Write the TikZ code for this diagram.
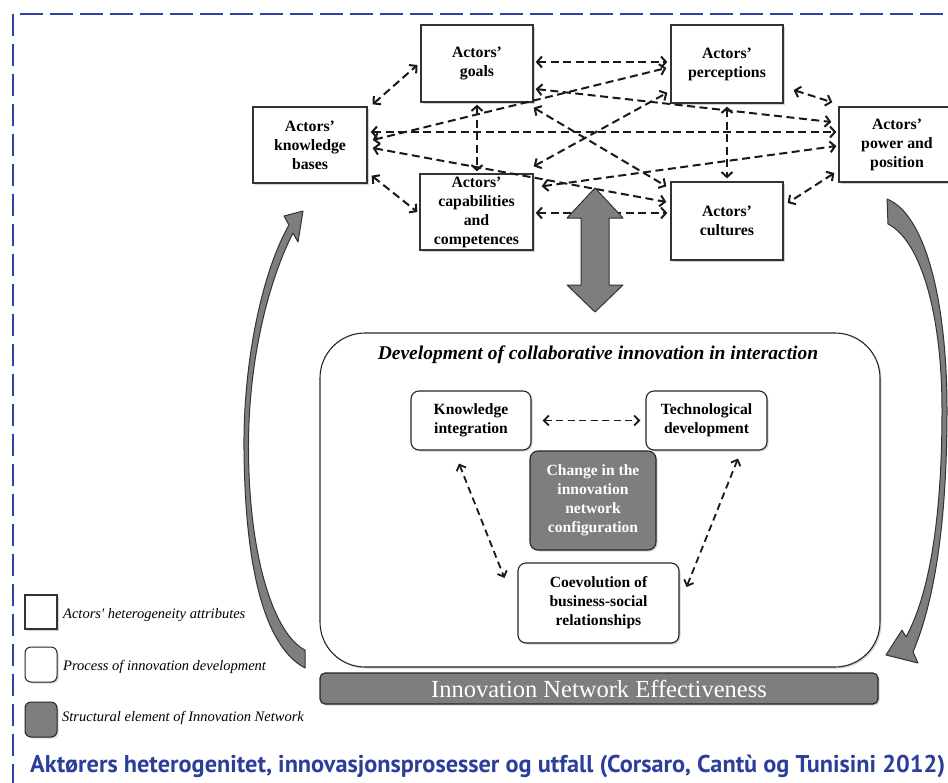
\documentclass[tikz,border=0pt]{standalone}
\usepackage{fontspec}
\setmainfont{Liberation Serif}
\newfontfamily\capfont{PT Sans}
\usetikzlibrary{arrows.meta,shadows,calc}
\definecolor{bordblue}{HTML}{2F45A5}
\definecolor{capblue}{HTML}{2B3F9A}
\definecolor{arrgray}{HTML}{7E7E7E}
\tikzset{
  shad/.style={drop shadow={shadow xshift=1.5pt,shadow yshift=-1.5pt,opacity=0.35}},
  actor/.style={draw=black!80, line width=1.3pt, fill=white, inner sep=0pt, align=center,
    font=\fontsize{15.8}{19}\selectfont\bfseries, shad},
  proc/.style={draw=black!85, line width=1.1pt, fill=white, rounded corners=8pt, inner sep=0pt,
    align=center, font=\fontsize{15.6}{19}\selectfont\bfseries, shad},
  struct/.style={proc, fill=arrgray, text=white},
  darr/.style={draw=black!90, line width=2pt, dash pattern=on 8pt off 4.5pt,
    {Straight Barb[length=5pt,width=11pt]}-{Straight Barb[length=5pt,width=11pt]}},
  iarr/.style={draw=black!90, line width=1.8pt, dash pattern=on 7pt off 4.5pt,
    {Straight Barb[length=5pt,width=10pt]}-{Straight Barb[length=5pt,width=10pt]}},
  blockarr/.style={fill=arrgray, draw=black!80, line width=1pt, line join=round},
  legtext/.style={anchor=west, inner sep=0pt, font=\fontsize{14.5}{16}\selectfont\itshape},
}
\begin{document}
\begin{tikzpicture}[x=1pt,y=-1pt]
\useasboundingbox (0,0) rectangle (948,782);
\fill[white] (0,0) rectangle (948,782);
% dashed frame
\draw[bordblue, line width=2pt, dash pattern=on 22pt off 8pt] (12.5,14) -- (12.5,790);
\draw[bordblue, line width=2pt, dash pattern=on 23pt off 7pt] (20,14) -- (960,14);

% actor nodes
\node[actor, minimum width=112pt, minimum height=77pt] (goals) at (477,63.5) {Actors’\\goals};
\node[actor, minimum width=114pt, minimum height=76pt] (know) at (310,145) {Actors’\\knowledge\\bases};
\node[actor, minimum width=113pt, minimum height=76pt] (caps) at (476.5,212) {Actors’\\capabilities\\and\\competences};
\node[actor, minimum width=112pt, minimum height=78pt] (perc) at (727,64) {Actors’\\perceptions};
\node[actor, minimum width=112pt, minimum height=78pt] (cult) at (727,221) {Actors’\\cultures};
\node[actor, minimum width=116pt, minimum height=75pt] (power) at (897,144.5) {Actors’\\power and\\position};

% dashed relations between actors
\draw[darr] ($(know.north east)+(5,-2)$) -- ($(goals.west)+(-3,1.5)$);
\draw[darr] ($(know.south east)+(4,-8)$) -- ($(caps.west)+(-2,0)$);
\draw[darr] ($(goals.south)+(0,2)$) -- ($(caps.north)+(0.5,-2)$);
\draw[darr] ($(goals.east)+(2,-1.5)$) -- ($(perc.west)+(-3,-2)$);
\draw[darr] ($(goals.east)+(2,25.5)$) -- ($(power.west)+(-7,-22.5)$);
\draw[darr] ($(goals.south east)+(0,5)$) -- ($(cult.north west)+(-4,5)$);
\draw[darr] ($(know.east)+(3,-13)$) -- ($(power.west)+(-2,-12.5)$);
\draw[darr] ($(know.east)+(5,-5)$) -- ($(perc.west)+(-4,4)$);
\draw[darr] ($(know.east)+(5,3)$) -- ($(cult.west)+(-4,-19)$);
\draw[darr] ($(caps.north east)+(0,-7)$) -- ($(perc.south west)+(-3,-11)$);
\draw[darr] ($(caps.north east)+(8,13)$) -- ($(power.west)+(-2,1.5)$);
\draw[darr] ($(caps.east)+(2,1)$) -- ($(cult.west)+(-3,-8)$);
\draw[darr] ($(perc.south)+(0,3)$) -- ($(cult.north)+(0,-3)$);
\draw[darr] ($(perc.east)+(10,26)$) -- ($(power.north west)+(-6,-4)$);
\draw[darr] ($(power.west)+(-4,28.5)$) -- ($(cult.east)+(4,-18)$);

% big double block arrow
\draw[blockarr] (595,188) -- (623,218) -- (609,218) -- (609,285) -- (623,285) -- (595,312)
  -- (567,285) -- (581,285) -- (581,218) -- (567,218) -- cycle;

% development box
\node[draw=black!85, line width=1.1pt, rounded corners=45pt, minimum width=560pt, minimum height=334pt, inner sep=0pt, shad, fill=white] (dev) at (600,500) {};
\node[inner sep=0pt, font=\fontsize{19.5}{22}\selectfont\bfseries\itshape] (devtitle) at (598,355) {Development of collaborative innovation in interaction};

\node[proc, minimum width=120pt, minimum height=59pt] (ki) at (471,420.5) {Knowledge\\integration};
\node[proc, minimum width=121pt, minimum height=59pt] (td) at (706.5,420.5) {Technological\\development};
\node[struct, minimum width=126pt, minimum height=99pt] (chg) at (593,500.5) {Change in the\\innovation\\network\\configuration};
\node[proc, minimum width=161pt, minimum height=80pt] (coev) at (598.5,603) {Coevolution of\\business-social\\relationships};

\draw[iarr] ($(ki.east)+(11,0)$) -- ($(td.west)+(-5,0)$);
\draw[iarr] ($(ki.south)+(-12,13)$) -- ($(coev.west)+(-13,-25)$);
\draw[iarr] ($(td.south)+(31.5,8)$) -- ($(coev.east)+(7,-16)$);

% effectiveness bar
\node[struct, rounded corners=5pt, minimum width=558pt, minimum height=31pt,
  font=\fontsize{24.5}{26}\selectfont] (ine) at (599,688.5) {Innovation Network Effectiveness};

% curved feedback arrows
\draw[blockarr] (303,211) -- (284,216) -- (289,225)
  .. controls (263,270) and (243,360) .. (244,450)
  .. controls (245,560) and (262,645) .. (305,668) -- (305,650)
  .. controls (275,635) and (249,560) .. (248.5,450)
  .. controls (248,362) and (268,282) .. (293,233) -- (298,242) -- cycle;
\draw[blockarr] (887,199) .. controls (925,214) and (947,300) .. (947,410)
  .. controls (947,520) and (935,600) .. (913,652) -- (918,663) -- (886,655) -- (902,630) -- (906,637)
  .. controls (929,595) and (942,520) .. (942,410)
  .. controls (942,312) and (920,240) .. (888,224) -- cycle;

% legend
\node[draw=black!80, line width=1.2pt, fill=white, minimum width=32pt, minimum height=34pt, inner sep=0pt, shad] (leg1) at (41,612) {};
\node[legtext] (leg1t) at (63,615) {Actors\textquotesingle{} heterogeneity attributes};
\node[draw=black!85, line width=1pt, fill=white, rounded corners=6pt, minimum width=32pt, minimum height=35pt, inner sep=0pt, shad] (leg2) at (41,664.5) {};
\node[legtext] (leg2t) at (63,667) {Process of innovation development};
\node[draw=black!85, line width=1pt, fill=arrgray, rounded corners=6pt, minimum width=32pt, minimum height=35pt, inner sep=0pt, shad] (leg3) at (41,719.5) {};
\node[legtext] (leg3t) at (62,718) {Structural element of Innovation Network};

% caption
\node[anchor=base west, inner sep=0pt, text=capblue] (cap) at (30,772)
  {\resizebox{915pt}{!}{\capfont\bfseries Aktørers heterogenitet, innovasjonsprosesser og utfall (Corsaro, Cantù og Tunisini 2012)}};
\end{tikzpicture}
\end{document}
